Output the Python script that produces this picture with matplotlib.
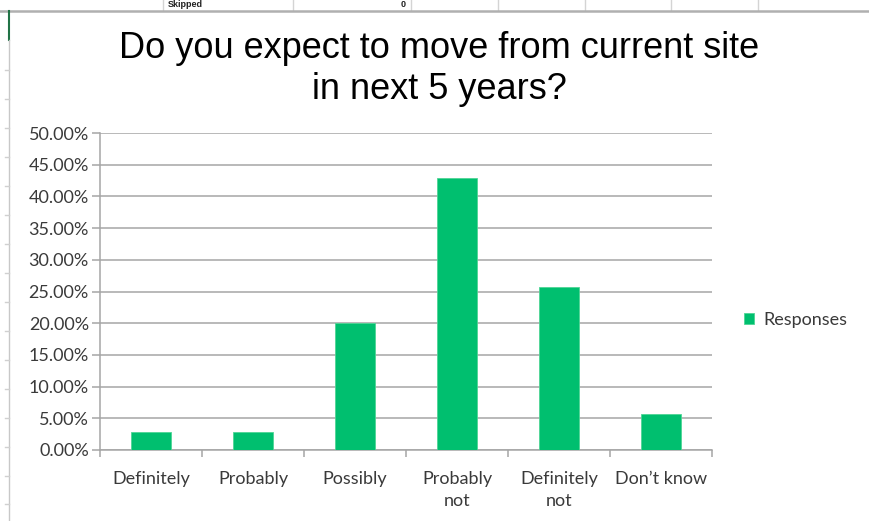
import matplotlib
matplotlib.use("Agg")
import matplotlib.pyplot as plt
from matplotlib.lines import Line2D

categories = ["Definitely", "Probably", "Possibly", "Probably\nnot", "Definitely\nnot", "Don\u2019t know"]
responses = [2.86, 2.86, 20.0, 42.86, 25.71, 5.71]
yticks = [0, 5, 10, 15, 20, 25, 30, 35, 40, 45, 50]
title = "Do you expect to move from current site\nin next 5 years?"

W, H = 869, 521
fig = plt.figure(figsize=(W / 100, H / 100), dpi=100)
fig.patch.set_facecolor("white")

green = "#00bf6f"
grid_c = "#a6a6a6"
txt_c = "#3a3a3a"
lab_font = ["Lato", "DejaVu Sans"]

# spreadsheet remnants above the chart
for x in [163, 293, 411, 498, 585, 671, 758]:
    fig.add_artist(Line2D([x / W, x / W], [1, 1 - 10 / H], color="#d4d4d4", lw=1))
fig.add_artist(Line2D([0, 1], [1 - 10.5 / H, 1 - 10.5 / H], color="#b0b0b0", lw=1.8))
fig.add_artist(Line2D([8.5 / W, 8.5 / W], [1 - 11 / H, 1 - 40 / H], color="#217346", lw=1.5))
fig.add_artist(Line2D([8.5 / W, 8.5 / W], [1 - 40 / H, 0], color="#c8c8c8", lw=1))
for y in [418, 447, 476, 504, 389, 360, 331, 302, 273, 244, 215, 186, 157, 128, 99, 70]:
    fig.add_artist(Line2D([5 / W, 8.5 / W], [1 - y / H, 1 - y / H], color="#d0d0d0", lw=1))
fig.text(168 / W, 1 - 4.5 / H, "Skipped", fontsize=6.5, fontweight="bold",
         family=["Liberation Sans"], va="center", ha="left", color="#222222")
fig.text(406 / W, 1 - 4.5 / H, "0", fontsize=6.5, fontweight="bold",
         family=["Liberation Sans"], va="center", ha="right", color="#222222")

ax = fig.add_axes([100 / W, 1 - 450 / H, 612 / W, 317 / H])
x = list(range(len(categories)))
ax.bar(x, responses, width=0.4, color=green, edgecolor="#4fd595", linewidth=0.6, zorder=3,
       label="Responses")

ax.set_xlim(-0.5, len(categories) - 0.5)
ax.set_ylim(0, 50)
ax.set_yticks(yticks)
ax.set_yticklabels([f"{v:.2f}%" for v in yticks], fontsize=13, color=txt_c, family=lab_font)
ax.yaxis.grid(True, color=grid_c, lw=1.1, zorder=0)
ax.tick_params(axis="y", length=6, color=grid_c, width=1.1, pad=2)

ax.set_xticks(x)
ax.set_xticklabels(categories, fontsize=13, color=txt_c, family=lab_font, linespacing=1.45)
ax.set_xticks([i - 0.5 for i in range(len(categories) + 1)], minor=True)
ax.tick_params(axis="x", which="major", length=0, pad=15)
ax.tick_params(axis="x", which="minor", length=5, color=grid_c, width=1.1)

for s in ["top", "right"]:
    ax.spines[s].set_visible(False)
for s in ["left", "bottom"]:
    ax.spines[s].set_color(grid_c)
    ax.spines[s].set_linewidth(1.1)

fig.text(439 / W, 1 - 69 / H, title, fontsize=26, family=["Liberation Sans"],
         ha="center", va="center", color="black", linespacing=1.25)

leg = ax.legend(loc="center left", bbox_to_anchor=(1.025, 0.41), frameon=False,
                prop={"family": lab_font, "size": 13}, handlelength=0.6, handleheight=0.6,
                handletextpad=0.5)
for t in leg.get_texts():
    t.set_color(txt_c)

fig.savefig("out.png", dpi=100)
